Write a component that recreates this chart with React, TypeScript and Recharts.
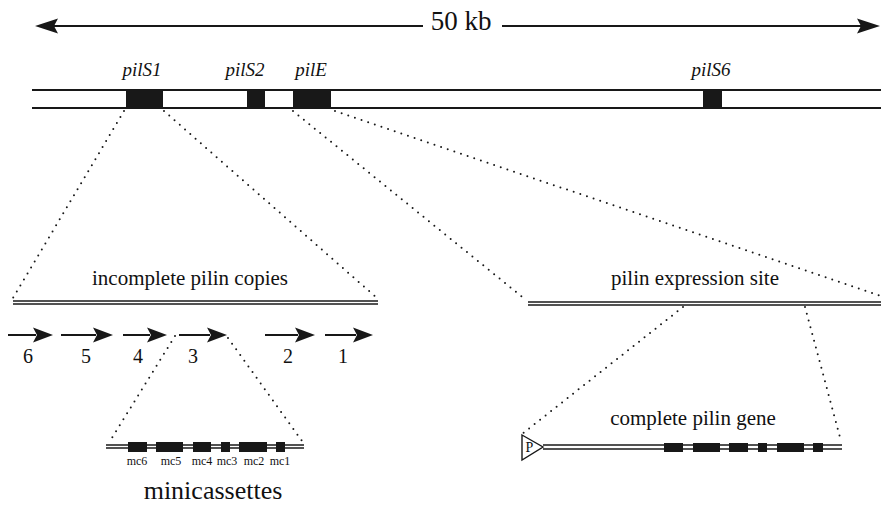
import React from "react";
import { ComposedChart, XAxis, YAxis, ReferenceLine, ReferenceArea, Scatter } from "recharts";

const W = 881;
const H = 505;
const INK = "#181818";
const FONT = "'Liberation Serif', 'Times New Roman', serif";

// ---- data (diagram units) ----
const scaleBar = [
  { from: 423, to: 35 },
  { from: 502, to: 880 },
];
const scaleLabel = [{ x: 461, y: 30, text: "50 kb" }];

const chromosomeLines = [
  { x1: 32, x2: 881, y: 90 },
  { x1: 32, x2: 881, y: 108 },
];
const loci = [
  { name: "pilS1", x1: 126, x2: 163, labelX: 142 },
  { name: "pilS2", x1: 247, x2: 265, labelX: 245 },
  { name: "pilE", x1: 293, x2: 331, labelX: 311 },
  { name: "pilS6", x1: 703, x2: 722, labelX: 711 },
];
const locusTop = 89;
const locusBottom = 109;
const locusLabelY = 76;

const doubleLines = [
  { x1: 13, x2: 378, y: 301 },
  { x1: 13, x2: 378, y: 304 },
  { x1: 528, x2: 881, y: 302 },
  { x1: 528, x2: 881, y: 305 },
  { x1: 106, x2: 304, y: 445 },
  { x1: 106, x2: 304, y: 448 },
  { x1: 543, x2: 842, y: 445 },
  { x1: 543, x2: 842, y: 449 },
];

const dotted = [
  { x1: 124, y1: 111, x2: 13, y2: 298 },
  { x1: 164, y1: 111, x2: 377, y2: 298 },
  { x1: 293, y1: 111, x2: 526, y2: 300 },
  { x1: 335, y1: 111, x2: 881, y2: 296 },
  { x1: 175, y1: 336, x2: 110, y2: 441 },
  { x1: 228, y1: 338, x2: 302, y2: 441 },
  { x1: 683, y1: 307, x2: 522, y2: 434 },
  { x1: 805, y1: 307, x2: 841, y2: 441 },
];

const copies = [
  { n: "6", from: 8, to: 53, labelX: 28 },
  { n: "5", from: 61, to: 113, labelX: 86 },
  { n: "4", from: 123, to: 167, labelX: 138 },
  { n: "3", from: 179, to: 227, labelX: 193 },
  { n: "2", from: 265, to: 315, labelX: 288 },
  { n: "1", from: 325, to: 373, labelX: 343 },
];
const copyY = 335;
const copyLabelY = 363;

const minicassettes = [
  { name: "mc6", x1: 128, x2: 147, labelX: 137 },
  { name: "mc5", x1: 156, x2: 183, labelX: 171 },
  { name: "mc4", x1: 193, x2: 211, labelX: 202 },
  { name: "mc3", x1: 221, x2: 230, labelX: 227 },
  { name: "mc2", x1: 239, x2: 267, labelX: 254 },
  { name: "mc1", x1: 276, x2: 285, labelX: 280 },
];
const mcTop = 442;
const mcBottom = 452;
const mcLabelY = 465;

const geneExons = [
  { x1: 664, x2: 683 },
  { x1: 693, x2: 720 },
  { x1: 729, x2: 748 },
  { x1: 758, x2: 767 },
  { x1: 777, x2: 804 },
  { x1: 813, x2: 823 },
];
const exonTop = 443;
const exonBottom = 452;
const promoter = [{ x: 522, y: 447, text: "P" }];

const captions = [
  { x: 190, y: 285, text: "incomplete pilin copies", size: 21 },
  { x: 695, y: 285, text: "pilin expression site", size: 21 },
  { x: 693, y: 425, text: "complete pilin gene", size: 21 },
  { x: 213, y: 499, text: "minicassettes", size: 26 },
];

// ---- derived point sets ----
const textPoints = [
  ...scaleLabel.map((d) => ({ x: d.x, y: d.y, text: d.text, size: 27, italic: false })),
  ...loci.map((d) => ({ x: d.labelX, y: locusLabelY, text: d.name, size: 19, italic: true })),
  ...copies.map((d) => ({ x: d.labelX, y: copyLabelY, text: d.n, size: 20, italic: false })),
  ...minicassettes.map((d) => ({ x: d.labelX, y: mcLabelY, text: d.name, size: 12, italic: false })),
  ...captions.map((d) => ({ x: d.x, y: d.y, text: d.text, size: d.size, italic: false })),
];

const bigHeadLen = 23;
const smallHeadLen = 20;
const headPoints = [
  ...scaleBar.map((d) => ({ x: d.to, y: 26, dir: d.to > d.from ? 1 : -1, big: true })),
  ...copies.map((d) => ({ x: d.to, y: copyY, dir: 1, big: false })),
];

const TextShape = (props: any) => {
  const p = props.payload;
  return (
    <text
      x={props.cx}
      y={props.cy}
      textAnchor="middle"
      fontFamily={FONT}
      fontSize={p.size}
      fontStyle={p.italic ? "italic" : "normal"}
      fill="#111"
    >
      {p.text}
    </text>
  );
};

const HeadShape = (props: any) => {
  const p = props.payload;
  const L = p.big ? bigHeadLen : smallHeadLen;
  const h = p.big ? 7.5 : 7.5;
  const notch = p.big ? 4 : 4;
  const x = props.cx;
  const y = props.cy;
  const d = p.dir;
  const pts = [
    [x, y],
    [x - d * L, y - h],
    [x - d * (L - notch), y],
    [x - d * L, y + h],
  ]
    .map((q) => q.join(","))
    .join(" ");
  return <polygon points={pts} fill={INK} />;
};

const PromoterShape = (props: any) => {
  const x = props.cx;
  const y = props.cy;
  const pts = `${x},${y - 12} ${x + 21},${y} ${x},${y + 13}`;
  return (
    <g>
      <polygon points={pts} fill="#fff" stroke={INK} strokeWidth={1.4} />
      <text x={x + 7.5} y={y + 5} textAnchor="middle" fontFamily={FONT} fontSize={14} fill="#111">
        {props.payload.text}
      </text>
    </g>
  );
};

export default function App() {
  return (
    <div style={{ position: "absolute", left: 0, top: 0, width: W, height: H, background: "#fff" }}>
      <ComposedChart width={W} height={H} margin={{ top: 0, right: 0, bottom: 0, left: 0 }}>
        <XAxis type="number" dataKey="x" domain={[0, W]} hide allowDataOverflow />
        <YAxis type="number" dataKey="y" domain={[0, H]} reversed hide allowDataOverflow />

        {/* scale bar shafts */}
        {scaleBar.map((d, i) => (
          <ReferenceLine
            key={"sb" + i}
            segment={[
              { x: d.from, y: 26 },
              { x: d.to - (d.to > d.from ? 1 : -1) * (bigHeadLen - 4), y: 26 },
            ]}
            stroke={INK}
            strokeWidth={2}
            ifOverflow="visible"
          />
        ))}

        {/* chromosome */}
        {chromosomeLines.map((d, i) => (
          <ReferenceLine
            key={"ch" + i}
            segment={[
              { x: d.x1, y: d.y },
              { x: d.x2, y: d.y },
            ]}
            stroke={INK}
            strokeWidth={2}
            ifOverflow="visible"
          />
        ))}
        {loci.map((d) => (
          <ReferenceArea
            key={d.name}
            x1={d.x1}
            x2={d.x2}
            y1={locusTop}
            y2={locusBottom}
            fill={INK}
            fillOpacity={1}
            stroke="none"
            ifOverflow="visible"
          />
        ))}

        {/* dotted zoom lines */}
        {dotted.map((d, i) => (
          <ReferenceLine
            key={"dt" + i}
            segment={[
              { x: d.x1, y: d.y1 },
              { x: d.x2, y: d.y2 },
            ]}
            stroke={INK}
            strokeWidth={2}
            strokeDasharray="0 7"
            strokeLinecap="round"
            ifOverflow="visible"
          />
        ))}

        {/* double lines */}
        {doubleLines.map((d, i) => (
          <ReferenceLine
            key={"dl" + i}
            segment={[
              { x: d.x1, y: d.y },
              { x: d.x2, y: d.y },
            ]}
            stroke={INK}
            strokeWidth={1.5}
            ifOverflow="visible"
          />
        ))}

        {/* pilin copy arrows */}
        {copies.map((d) => (
          <ReferenceLine
            key={"cp" + d.n}
            segment={[
              { x: d.from, y: copyY },
              { x: d.to - smallHeadLen + 3, y: copyY },
            ]}
            stroke={INK}
            strokeWidth={2}
            ifOverflow="visible"
          />
        ))}

        {/* minicassettes */}
        {minicassettes.map((d) => (
          <ReferenceArea
            key={d.name}
            x1={d.x1}
            x2={d.x2}
            y1={mcTop}
            y2={mcBottom}
            fill={INK}
            fillOpacity={1}
            stroke="none"
            ifOverflow="visible"
          />
        ))}

        {/* complete gene exons */}
        {geneExons.map((d, i) => (
          <ReferenceArea
            key={"ex" + i}
            x1={d.x1}
            x2={d.x2}
            y1={exonTop}
            y2={exonBottom}
            fill={INK}
            fillOpacity={1}
            stroke="none"
            ifOverflow="visible"
          />
        ))}

        <Scatter data={headPoints} shape={HeadShape} isAnimationActive={false} />
        <Scatter data={promoter} shape={PromoterShape} isAnimationActive={false} />
        <Scatter data={textPoints} shape={TextShape} isAnimationActive={false} />
      </ComposedChart>
    </div>
  );
}
